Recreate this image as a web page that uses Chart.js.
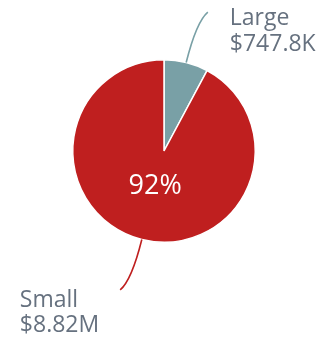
<!DOCTYPE html>
<html>
<head>
<meta charset="utf-8">
<script src="https://cdn.jsdelivr.net/npm/chart.js@4.4.1/dist/chart.umd.min.js"></script>
<style>
  html, body { margin: 0; padding: 0; background: #fff; }
  #wrap { width: 332px; height: 339px; position: relative; }
</style>
</head>
<body>
<div id="wrap"><canvas id="pie"></canvas></div>
<script>
// data
const categories = ['Large', 'Small'];
const amounts = [747.8, 8820]; // thousands of dollars
const amountLabels = ['$747.8K', '$8.82M'];
const sliceColors = ['#79a0a6', '#bf1f1f'];

const labelFont = '23px "Open Sans", sans-serif';
const labelColor = '#66717f';

// leader lines + labels + percentage
const calloutPlugin = {
    id: 'callouts',
    afterDraw(chart) {
        const ctx = chart.ctx;
        const meta = chart.getDatasetMeta(0);
        const total = amounts.reduce((a, b) => a + b, 0);

        meta.data.forEach((arc, i) => {
            const { x, y, startAngle, endAngle, outerRadius } = arc.getProps(['x', 'y', 'startAngle', 'endAngle', 'outerRadius'], true);
            const mid = (startAngle + endAngle) / 2;
            const cx = Math.cos(mid), cy = Math.sin(mid);
            const right = cx >= 0;
            const side = right ? 1 : -1;

            const sx = x + cx * outerRadius, sy = y + cy * outerRadius;
            const qx = sx + cx * 42, qy = sy + cy * 42;
            const ex = sx + cx * 52 + side * 9, ey = sy + cy * 52;

            ctx.save();
            ctx.strokeStyle = sliceColors[i];
            ctx.lineWidth = 1.6;
            ctx.beginPath();
            ctx.moveTo(sx, sy);
            ctx.quadraticCurveTo(qx, qy, ex, ey);
            ctx.stroke();

            ctx.font = labelFont;
            ctx.fillStyle = labelColor;
            ctx.textAlign = 'left';
            ctx.textBaseline = 'alphabetic';
            if (right) {
                ctx.fillText(categories[i], ex + 22, ey + 13);
                ctx.fillText(amountLabels[i], ex + 22, ey + 39);
            } else {
                const w = Math.max(ctx.measureText(categories[i]).width, ctx.measureText(amountLabels[i]).width);
                const lx = ex - 21 - w;
                ctx.fillText(categories[i], lx, ey + 17);
                ctx.fillText(amountLabels[i], lx, ey + 42);
            }

            // percentage inside the big slice
            const share = amounts[i] / total;
            if (share > 0.5) {
                ctx.font = '27px "Open Sans", sans-serif';
                ctx.fillStyle = '#ffffff';
                ctx.textAlign = 'center';
                ctx.textBaseline = 'middle';
                ctx.fillText(Math.round(share * 100) + '%', x + cx * outerRadius * 0.4, y + cy * outerRadius * 0.4);
            }
            ctx.restore();
        });
    }
};

new Chart(document.getElementById('pie'), {
    type: 'pie',
    data: {
        labels: categories,
        datasets: [{
            data: amounts,
            backgroundColor: sliceColors,
            borderColor: '#ffffff',
            borderWidth: 1.5
        }]
    },
    options: {
        responsive: true,
        maintainAspectRatio: false,
        animation: false,
        layout: { padding: { left: 72, right: 76, top: 59, bottom: 96 } },
        plugins: {
            legend: { display: false },
            tooltip: { enabled: false }
        }
    },
    plugins: [calloutPlugin]
});
</script>
</body>
</html>
